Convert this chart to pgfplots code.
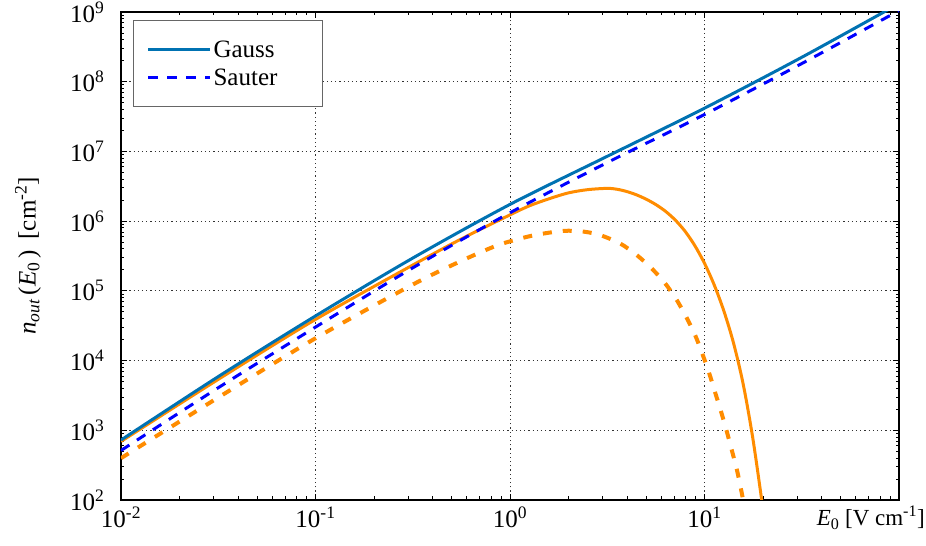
\documentclass[border=0pt]{standalone}
\usepackage{fontspec}
\setmainfont{Liberation Serif}
\usepackage{pgfplots}
\pgfplotsset{compat=1.18}

\definecolor{gausscol}{RGB}{0,114,178}
\definecolor{sautercol}{RGB}{0,0,255}
\definecolor{orng}{RGB}{255,140,0}

\newcommand{\tickfont}{\fontsize{25bp}{30bp}\selectfont}

\begin{document}
\begin{tikzpicture}
\useasboundingbox (-121bp,-46bp) rectangle (805bp,500bp);
\begin{axis}[
    xmode=log, ymode=log,
    scale only axis,
    width=778bp, height=488bp,
    xmin=0.01, xmax=100,
    ymin=100, ymax=1e9,
    axis line style={line width=1.2bp},
    every tick/.style={black, line width=0.8bp},
    major tick length=6bp,
    minor tick length=3.5bp,
    grid=major,
    major grid style={black!80, line width=0.9bp, dash pattern=on 1.2bp off 3bp},
    xtick={0.01,0.1,1,10,100},
    xticklabels={10\textsuperscript{-2},10\textsuperscript{-1},10\textsuperscript{0},10\textsuperscript{1},{}},
    ytick={1e2,1e3,1e4,1e5,1e6,1e7,1e8,1e9},
    yticklabels={10\textsuperscript{2},10\textsuperscript{3},10\textsuperscript{4},10\textsuperscript{5},10\textsuperscript{6},10\textsuperscript{7},10\textsuperscript{8},10\textsuperscript{9}},
    tick label style={font=\tickfont},
    xticklabel style={yshift=-3bp},
    yticklabel style={xshift=-13bp},
    xlabel={\textit{E}\textsubscript{0} [V cm\textsuperscript{-1}]},
    xlabel style={at={(ticklabel* cs:1)}, anchor=north east, inner sep=0pt, xshift=26bp, yshift=-6bp,
        font=\fontsize{23bp}{27bp}\selectfont},
    ylabel={\textit{n}\textsubscript{\textit{out}}\,(\textit{E}\textsubscript{0}\,)\, [cm\textsuperscript{-2}]},
    ylabel style={at={(axis description cs:-0.1195,0.5)}, anchor=center, rotate=0, font=\tickfont},
    legend style={at={(0.0154,0.9836)}, anchor=north west, draw=black!60, line width=1.2bp,
        font=\fontsize{25bp}{30bp}\selectfont, inner xsep=13bp, inner ysep=18bp,
        row sep=6bp, cells={anchor=west}},
    legend image code/.code={\draw[#1] (0bp,0bp) -- (62bp,0bp);},
]
% orange solid
\addplot[orng, line width=3bp, smooth, forget plot] coordinates {
(0.01,692) (0.03162,5370) (0.1,38900) (0.3162,234400) (0.5623,555900)
(1,1.230e6) (1.259,1.660e6) (1.585,2.089e6) (1.995,2.541e6) (2.512,2.831e6)
(3.162,2.951e6) (3.548,2.868e6) (3.981,2.661e6) (4.467,2.385e6) (5.012,2.065e6)
(5.623,1.728e6) (6.310,1.380e6) (7.079,1.035e6) (7.943,7.161e5) (8.913,4.467e5)
(10.0,2.483e5) (11.22,1.216e5) (12.59,5.098e4) (14.13,1.748e4) (15.85,4.440e3)
(17.78,7.244e2) (19.95,76.7)
};
% orange dashed
\addplot[orng, line width=4bp, dash pattern=on 9bp off 11bp, smooth, forget plot] coordinates {
(0.01,398) (0.03162,2951) (0.1,20890) (0.3162,123000) (0.5623,269200)
(0.8204,426600) (1,512900) (1.343,631000) (1.879,724400) (2.382,707900)
(2.904,631000) (3.681,478600) (4.477,327300) (5.358,208900) (6.266,128800)
(7.194,74130) (8.110,40740) (8.933,23440) (9.683,13180) (10.54,6761)
(11.32,3548) (12.16,1862) (13.00,977) (13.80,525) (14.66,275)
(15.42,141) (16.03,81.3)
};
% Gauss
\addplot[gausscol, line width=3bp, smooth] coordinates {
(0.01,724) (0.03162,5888) (0.1,43650) (0.3162,295100) (1,1.738e6)
(3.162,8.51e6) (10,4.169e7) (31.62,2.239e8) (100,1.318e9)
};
\addlegendentry{Gauss}
% Sauter
\addplot[sautercol, line width=3bp, dash pattern=on 10bp off 9bp, smooth] coordinates {
(0.01,513) (0.03162,4074) (0.1,30200) (0.3162,213800) (1,1.318e6)
(3.162,6.918e6) (10,3.388e7) (31.62,1.820e8) (100,1.047e9)
};
\addlegendentry{Sauter\rule{30bp}{0pt}}
\end{axis}
\end{tikzpicture}
\end{document}
